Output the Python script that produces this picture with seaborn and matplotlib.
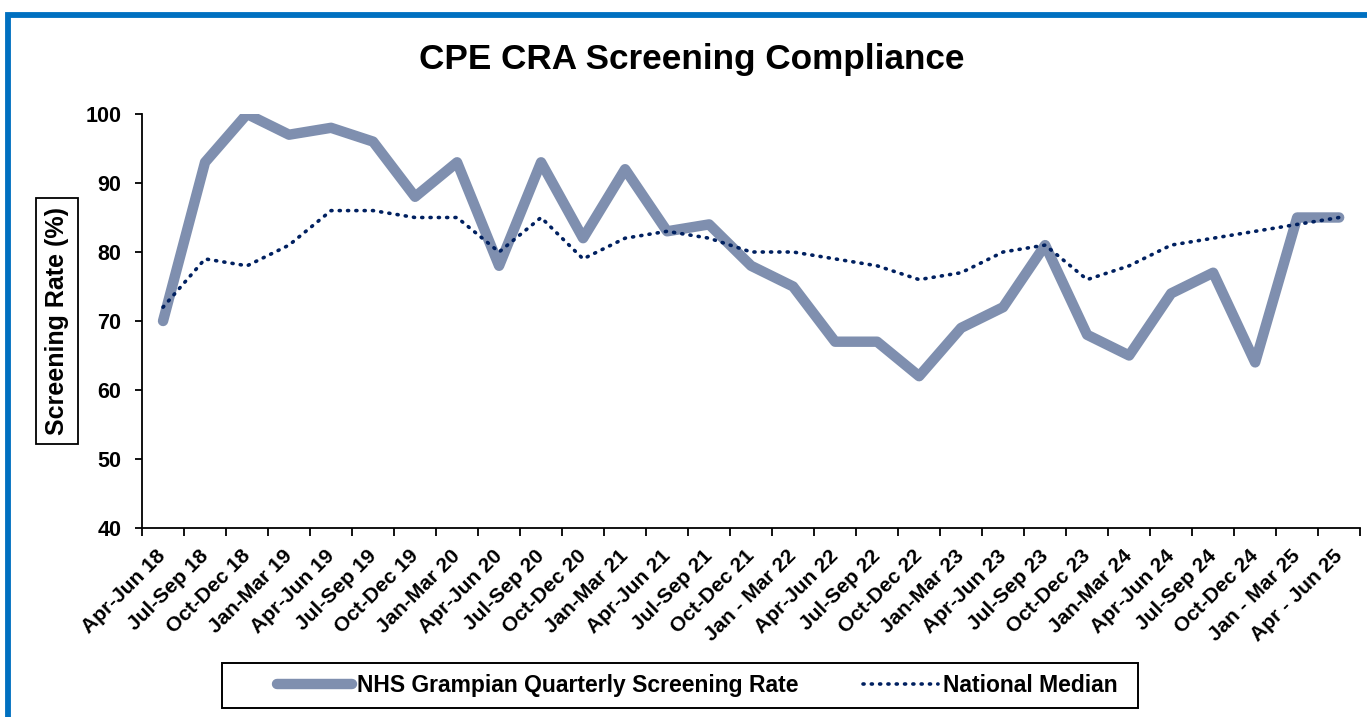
import numpy as np
import pandas as pd
import matplotlib.pyplot as plt
from matplotlib.patches import Rectangle
from matplotlib.lines import Line2D
import seaborn as sns

# datos
quarters = ["Apr-Jun 18", "Jul-Sep 18", "Oct-Dec 18", "Jan-Mar 19", "Apr-Jun 19",
            "Jul-Sep 19", "Oct-Dec 19", "Jan-Mar 20", "Apr-Jun 20", "Jul-Sep 20",
            "Oct-Dec 20", "Jan-Mar 21", "Apr-Jun 21", "Jul-Sep 21", "Oct-Dec 21",
            "Jan - Mar 22", "Apr-Jun 22", "Jul-Sep 22", "Oct-Dec 22", "Jan-Mar 23",
            "Apr-Jun 23", "Jul-Sep 23", "Oct-Dec 23", "Jan-Mar 24", "Apr-Jun 24",
            "Jul-Sep 24", "Oct-Dec 24", "Jan - Mar 25", "Apr - Jun 25"]
grampian = [70, 93, 100, 97, 98, 96, 88, 93, 78, 93, 82, 92, 83, 84, 78,
            75, 67, 67, 62, 69, 72, 81, 68, 65, 74, 77, 64, 85, 85]
national = [72, 79, 78, 81, 86, 86, 85, 85, 80, 85, 79, 82, 83, 82, 80,
            80, 79, 78, 76, 77, 80, 81, 76, 78, 81, 82, 83, 84, 85]

label_g = "NHS Grampian Quarterly Screening Rate"
label_n = "National Median"
col_g = "#7F8FAF"
col_n = "#002060"
dots = (0, (0.3, 2.0))

df = pd.DataFrame({"pos": np.arange(len(quarters)), "quarter": quarters,
                   "grampian": grampian, "national": national})

sns.set_style("white")
plt.rcParams["font.family"] = ["Liberation Sans", "DejaVu Sans"]
plt.rcParams["font.weight"] = "bold"
for k in ["text.color", "axes.labelcolor", "xtick.color", "ytick.color"]:
    plt.rcParams[k] = "black"

fig = plt.figure(figsize=(13.67, 7.17), dpi=100)
ax = fig.add_axes([0.1039, 0.2636, 0.8911, 0.5774])

sns.lineplot(data=df, x="pos", y="grampian", ax=ax, color=col_g, linewidth=7.5,
             solid_capstyle="round", solid_joinstyle="round")
sns.lineplot(data=df, x="pos", y="national", ax=ax, color=col_n, linewidth=2.6,
             linestyle=dots, dash_capstyle="round")

ax.set_xlim(-0.5, len(quarters) - 0.5)
ax.set_ylim(40, 100)
ax.set_yticks([40, 50, 60, 70, 80, 90, 100])
ax.tick_params(axis="y", labelsize=15.5, length=5, width=1.3, direction="out", left=True, pad=10)
for t in ax.get_yticklabels():
    t.set_fontweight("bold")

# ticks en los limites de categoria, etiquetas en el centro
ax.set_xticks(np.arange(len(quarters) + 1) - 0.5)
ax.set_xticklabels([])
ax.tick_params(axis="x", which="major", length=6, width=1.3, direction="out", bottom=True)
ax.set_xticks(df["pos"], minor=True)
ax.set_xticklabels(quarters, minor=True, rotation=45, ha="right", va="center",
                   rotation_mode="anchor", fontsize=15, fontweight="bold")
ax.tick_params(axis="x", which="minor", length=0, pad=18)

ax.set_xlabel("")
ax.set_ylabel("Screening Rate (%)", fontsize=18, fontweight="bold",
              bbox=dict(boxstyle="square,pad=0.35", fc="white", ec="black", lw=1.3))
ax.yaxis.set_label_coords(-0.060, 0.5)

sns.despine(ax=ax)
for s in ["left", "bottom"]:
    ax.spines[s].set_color("black")
    ax.spines[s].set_linewidth(1.3)

fig.text(0.506, 0.917, "CPE CRA Screening Compliance", ha="center", va="center",
         fontsize=25.3, fontweight="bold")

# leyenda con marco propio
handles = [Line2D([], [], color=col_g, linewidth=7.5, solid_capstyle="round"),
           Line2D([], [], color=col_n, linewidth=2.6, linestyle=dots, dash_capstyle="round")]
fig.legend(handles, [label_g, label_n], loc="center", bbox_to_anchor=(0.510, 0.044),
           ncol=2, frameon=False, handlelength=3.3, handletextpad=0.2,
           columnspacing=2.8, prop={"weight": "bold", "size": 16.5})
fig.add_artist(Rectangle((222 / 1367, 1 - 708 / 717), 916 / 1367, 45 / 717,
                         transform=fig.transFigure, fill=False, ec="black", lw=1.4))

# marco azul (recortado a derecha y abajo)
fig.add_artist(Rectangle((8 / 1367, -0.1), 1.2, 1.1 - 14.5 / 717,
                         transform=fig.transFigure, fill=False, ec="#0070C0", lw=4.2))

fig.savefig("out.png", dpi=100)
